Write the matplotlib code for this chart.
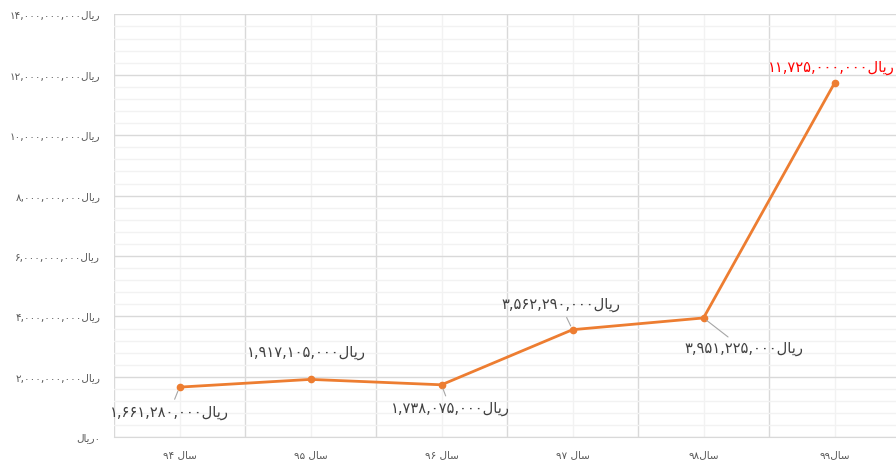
import matplotlib
matplotlib.use("Agg")
import matplotlib.pyplot as plt
from matplotlib.ticker import MultipleLocator, FixedLocator, FuncFormatter

# data
years = ["۹۴", "۹۵", "۹۶", "۹۷", "۹۸", "۹۹"]
values = [1661280000, 1917105000, 1738075000, 3562290000, 3951225000, 11725000000]
label_offsets = [(-10, -25), (-4, 27), (9, -24), (-12, 25), (40, -31), (-3, 16)]
leader = [True, False, True, True, True, False]

# Persian words already shaped, in visual order
RIAL = "\uFEDD\uFE8E\uFBFE\uFEAD"
SAL = "\uFEDD\uFE8E\uFEB3"
FA = str.maketrans("0123456789", "۰۱۲۳۴۵۶۷۸۹")

def fa_num(v):
    return f"{int(v):,}".translate(FA)

plt.rcParams['font.family'] = ['DejaVu Sans']

fig = plt.figure(figsize=(8.96, 4.67), dpi=100)
ax = fig.add_axes([114/896, 29.7/467, 786/896, 422.9/467])

x = list(range(len(values)))
ax.plot(x, values, '-o', color='#ED7D31', linewidth=2.0, markersize=4.5, zorder=3)

ax.set_xlim(-0.5, len(values) - 0.5)
ax.set_ylim(0, 14e9)

ax.yaxis.set_major_locator(MultipleLocator(2e9))
ax.yaxis.set_minor_locator(MultipleLocator(0.4e9))
ax.yaxis.set_major_formatter(FuncFormatter(lambda v, p: RIAL + "۰" if v == 0 else fa_num(v) + RIAL))
ax.set_xticks(x)
xlabels = []
for i, y in enumerate(years):
    xlabels.append(y + SAL if i >= 4 else y + " " + SAL)
ax.set_xticklabels(xlabels)
ax.xaxis.set_minor_locator(FixedLocator([i - 0.5 for i in range(len(values) + 1)]))

ax.grid(which='major', axis='y', color='#D9D9D9', linewidth=1.0)
ax.grid(which='minor', axis='y', color='#F2F2F2', linewidth=1.0)
ax.grid(which='major', axis='x', color='#F2F2F2', linewidth=1.0)
ax.grid(which='minor', axis='x', color='#D9D9D9', linewidth=1.0)
ax.set_axisbelow(True)

for s in ['top', 'right', 'left']:
    ax.spines[s].set_visible(False)
ax.spines['bottom'].set_color('#D9D9D9')
ax.tick_params(which='both', length=0)
ax.tick_params(axis='y', labelsize=7.5, labelcolor='#595959', pad=10)
ax.tick_params(axis='x', labelsize=7.5, labelcolor='#595959', pad=9)

for i, v in enumerate(values):
    col = '#FF0000' if i == len(values) - 1 else '#404040'
    arrow = dict(arrowstyle='-', color='#A6A6A6', lw=0.8, shrinkA=2, shrinkB=3) if leader[i] else None
    ax.annotate(fa_num(v) + RIAL, xy=(i, v), xytext=label_offsets[i], textcoords='offset pixels',
                ha='center', va='center', fontsize=10.5, color=col, arrowprops=arrow)

fig.savefig("out.png", dpi=100)
